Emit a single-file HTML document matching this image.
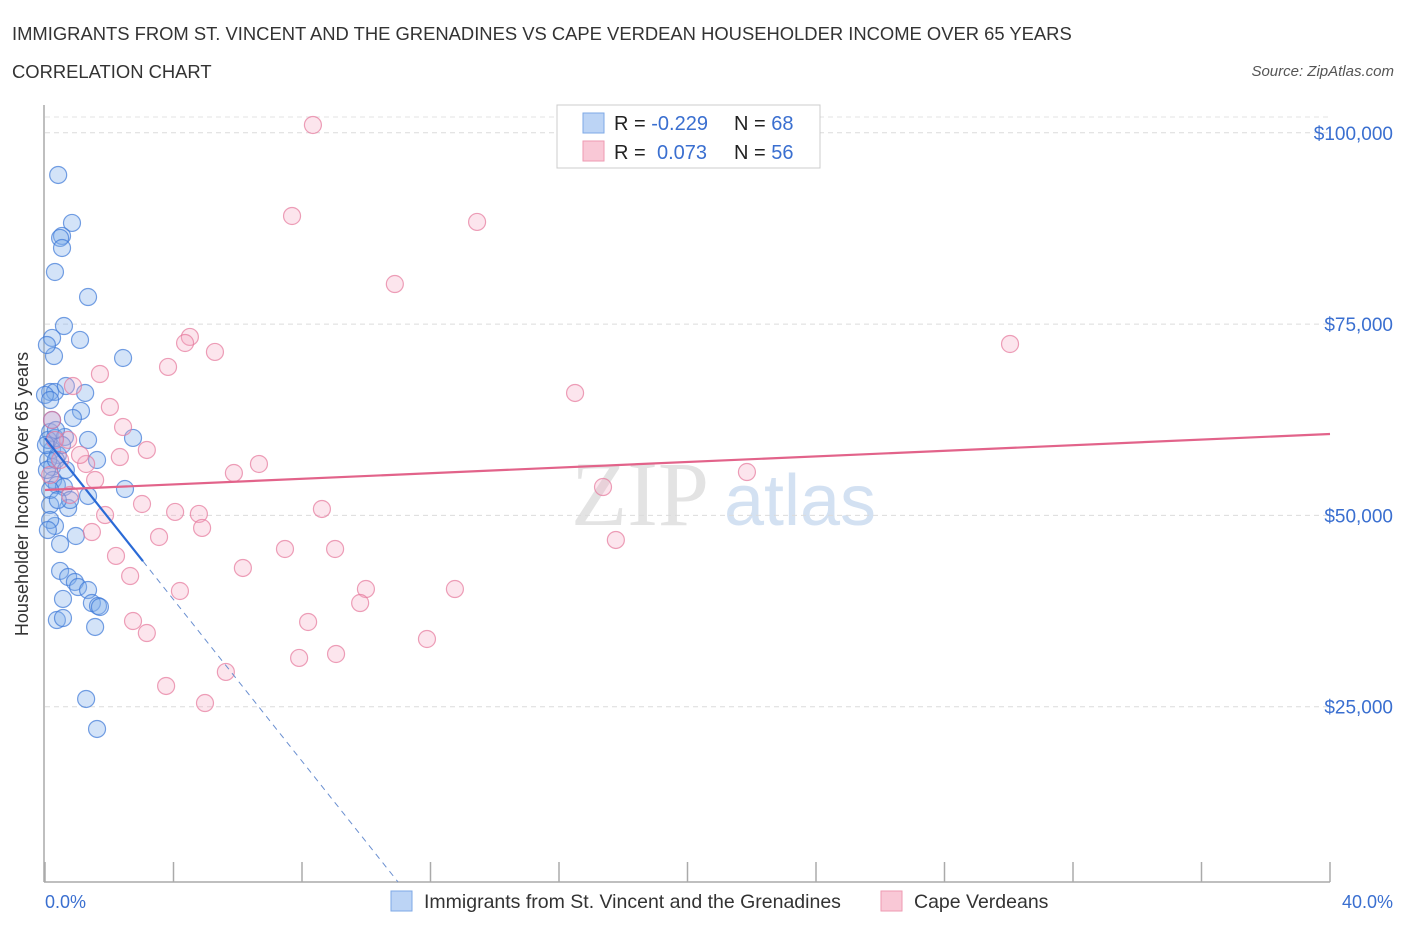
<!DOCTYPE html>
<html><head><meta charset="utf-8"><style>
body{margin:0;background:#fff;font-family:"Liberation Sans",sans-serif;}
svg{display:block}
</style></head><body>
<svg id="chart" width="1406" height="930" xmlns="http://www.w3.org/2000/svg">
<text x="12" y="40" font-size="18.4" fill="#333">IMMIGRANTS FROM ST. VINCENT AND THE GRENADINES VS CAPE VERDEAN HOUSEHOLDER INCOME OVER 65 YEARS</text>
<text x="12" y="78" font-size="18.4" fill="#333">CORRELATION CHART</text>
<text x="1394" y="76" font-size="15" fill="#555" font-style="italic" text-anchor="end">Source: ZipAtlas.com</text>
<g>
<text x="640" y="525" font-size="92" font-family="Liberation Serif,serif" fill="#ddd" text-anchor="middle" opacity="0.8">ZIP</text>
<text x="800" y="525" font-size="72" fill="#c9daf0" text-anchor="middle" opacity="0.8">atlas</text>
</g>
<g id="grid"></g>
<g id="axes"></g>
<g id="pts"></g>
<g id="trend"></g>
<text x="28" y="494" font-size="18" fill="#333" text-anchor="middle" transform="rotate(-90 28 494)">Householder Income Over 65 years</text>
<text x="45" y="908" font-size="18" fill="#3a6fd0">0.0%</text>
<text x="1393" y="908" font-size="18" fill="#3a6fd0" text-anchor="end">40.0%</text>
<g>
<rect x="557" y="105" width="263" height="63" fill="#fff" stroke="#ccc"/>
<rect x="583" y="113" width="21" height="20" fill="#bcd4f5" stroke="#7ea8e6"/>
<rect x="583" y="141" width="21" height="20" fill="#f9c8d6" stroke="#ee9ab2"/>
<text x="614" y="130" font-size="20" fill="#222">R = <tspan fill="#3a6fd0">-0.229</tspan></text>
<text x="734" y="130" font-size="20" fill="#222">N = <tspan fill="#3a6fd0">68</tspan></text>
<text x="614" y="159" font-size="20" fill="#222">R = <tspan fill="#3a6fd0" x="657">0.073</tspan></text>
<text x="734" y="159" font-size="20" fill="#222">N = <tspan fill="#3a6fd0">56</tspan></text>
</g>
<g>
<rect x="391" y="891" width="21" height="20" fill="#bcd4f5" stroke="#7ea8e6"/>
<text x="424" y="908" font-size="19.5" fill="#333">Immigrants from St. Vincent and the Grenadines</text>
<rect x="881" y="891" width="21" height="20" fill="#f9c8d6" stroke="#ee9ab2"/>
<text x="914" y="908" font-size="19.5" fill="#333">Cape Verdeans</text>
</g>
</svg>
<script>
const yTicks=[25000,50000,75000,100000];
const yTickLabels=["$25,000","$50,000","$75,000","$100,000"];
const xTicks=[0,4,8,12,16,20,24,28,32,36,40];
const blueX=[0.41,0.84,0.53,0.47,0.53,0.31,1.34,0.59,0.22,1.09,0.28,2.43,0.16,0.31,0.65,1.25,1.12,0.87,0.16,0.31,0.62,1.34,2.74,0.22,0.40,1.62,0.22,0.25,0.37,0.59,1.34,2.49,0.16,0.72,0.31,0.96,0.47,0.47,0.72,0.93,1.03,1.34,1.46,1.65,1.71,0.56,0.37,0.56,1.56,1.28,1.62,0.16,0.10,0.10,0.22,0.03,0.06,0.16,0.34,0.53,0.78,0.09,0.40,0.65,0.0,0.06,0.16,0.34];
const blueY=[94490,88220,86520,86260,84950,81810,78540,74750,73190,72930,70830,70570,66130,66130,66910,66000,63650,62730,60900,60120,60250,59860,60120,58550,57900,57240,56330,54630,53970,53710,52540,53450,51360,50970,48620,47310,46260,42740,41950,41300,40640,40250,38550,38160,38030,39080,36330,36590,35420,26010,22090,49400,59860,57240,62470,59200,55940,53320,57240,59200,52010,48090,52010,55940,65740,72270,65080,61160];
const pinkX=[8.34,7.69,13.45,10.89,30.04,4.51,4.36,5.29,3.83,1.71,0.87,16.50,2.02,0.22,2.43,0.72,3.17,2.33,1.28,6.66,5.88,21.85,1.56,17.37,0.78,3.02,8.62,4.05,4.79,1.87,4.89,1.46,3.55,17.77,7.47,9.03,2.21,6.16,2.65,4.20,9.99,12.76,9.81,8.19,2.74,3.17,11.89,9.06,7.91,5.63,3.77,4.98,0.31,0.47,0.16,1.09];
const pinkY=[101020,89130,88350,80240,72400,73320,72530,71360,69400,68480,66910,66000,64170,62470,61550,59860,58550,57630,56720,56720,55540,55670,54630,53710,52670,51490,50840,50450,50190,50050,48360,47830,47180,46790,45610,45610,44700,43130,42080,40120,40380,40380,38550,36070,36200,34630,33850,31890,31370,29540,27710,25480,59860,57240,55280,57900];
const blueTrendX=[0,10.99],blueTrendY=[60114,2091],blueSolidEnd=3.05;
const pinkTrendX=[0,40],pinkTrendY=[53320,60637];

const NS="http://www.w3.org/2000/svg";
const X=v=>45+v/40*1285;
const Y=v=>898-v/25000*191.3;
function mk(tag,attrs,parent){const e=document.createElementNS(NS,tag);for(const k in attrs)e.setAttribute(k,attrs[k]);document.getElementById(parent).appendChild(e);return e;}
let g=mk('line',{x1:45,x2:1330,y1:117,y2:117,stroke:'#e3e3e3','stroke-dasharray':'5,4'},'grid');


yTicks.forEach((t,i)=>{
 const l=mk('line',{x1:45,x2:1330,y1:Y(t),y2:Y(t),stroke:'#dcdcdc','stroke-dasharray':'5,4'},'grid');
 
 
 const tx=mk('text',{x:1393,y:Y(t)+7,'font-size':19,fill:'#3a6fd0','text-anchor':'end'},'grid');
 tx.textContent=yTickLabels[i];
 
 
});
let a=mk('line',{x1:44,x2:44,y1:105,y2:882,stroke:'#aaa','stroke-width':1.5},'axes');


a=mk('line',{x1:44,x2:1330,y1:882,y2:882,stroke:'#aaa','stroke-width':1.5},'axes');


xTicks.forEach(t=>{
 const l=mk('line',{x1:X(t),x2:X(t),y1:862,y2:882,stroke:'#aaa','stroke-width':1.5},'axes');
 
 
});
blueX.forEach((v,i)=>{
 const c=mk('circle',{cx:X(v),cy:Y(blueY[i]),r:8.5,fill:'rgba(130,175,235,0.35)',stroke:'rgba(60,120,215,0.7)','stroke-width':1.2},'pts');
 
 
});
pinkX.forEach((v,i)=>{
 const c=mk('circle',{cx:X(v),cy:Y(pinkY[i]),r:8.5,fill:'rgba(245,170,195,0.3)',stroke:'rgba(230,120,155,0.7)','stroke-width':1.2},'pts');
 
 
});
const by=x=>blueTrendY[0]+(blueTrendY[1]-blueTrendY[0])*(x-blueTrendX[0])/(blueTrendX[1]-blueTrendX[0]);
let t=mk('line',{x1:X(blueTrendX[0]),y1:Y(blueTrendY[0]),x2:X(blueSolidEnd),y2:Y(by(blueSolidEnd)),stroke:'#2a6ad6','stroke-width':2.2},'trend');


t=mk('line',{x1:X(blueSolidEnd),y1:Y(by(blueSolidEnd)),x2:X(blueTrendX[1]),y2:Y(blueTrendY[1]),stroke:'#6a8fd0','stroke-width':1,'stroke-dasharray':'6,5'},'trend');


t=mk('line',{x1:X(pinkTrendX[0]),y1:Y(pinkTrendY[0]),x2:X(pinkTrendX[1]),y2:Y(pinkTrendY[1]),stroke:'#e2638a','stroke-width':2.2},'trend');


</script>
</body></html>
